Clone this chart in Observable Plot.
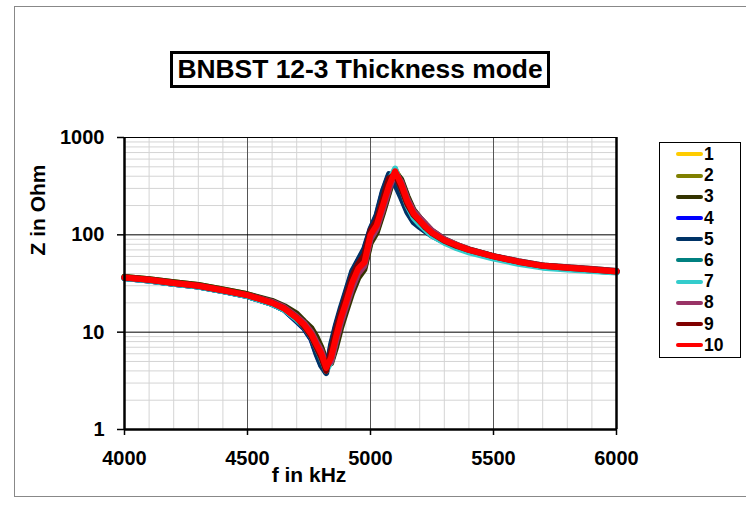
<!DOCTYPE html>
<html><head><meta charset="utf-8">
<script src="https://cdn.jsdelivr.net/npm/d3@7"></script>
<script src="https://cdn.jsdelivr.net/npm/@observablehq/plot@0.6"></script>
<style>
body{margin:0;background:#fff;font-family:Arial,"Liberation Sans",sans-serif;}
#wrap{position:relative;width:746px;height:505px;overflow:hidden;}
#frame{position:absolute;left:14px;top:6px;width:760px;height:489px;border:1px solid #888;}
#title{position:absolute;left:170px;top:51px;width:374px;height:31px;border:3px solid #000;font-weight:bold;font-size:26.4px;line-height:31px;text-align:center;background:#fff;white-space:nowrap;}
#legend{position:absolute;left:659px;top:142px;width:80px;height:214px;border:1px solid #000;background:#fff;}
.li{position:absolute;left:16px;height:20px;font-weight:bold;font-size:17.5px;line-height:20px;}
.li span.sw{display:inline-block;width:27px;height:4px;border-radius:2px;vertical-align:middle;margin-right:1px;position:relative;top:-1px;}
#chart{position:absolute;left:0;top:0;}
#chart svg text{font-weight:bold;font-family:Arial,"Liberation Sans",sans-serif;font-size:20px;}
.axlab{position:absolute;font-weight:bold;font-size:21px;white-space:nowrap;line-height:1;}
#xlab{left:309px;top:474px;transform:translate(-50%,-50%);}
#ylab{left:37px;top:210px;transform:translate(-50%,-50%) rotate(-90deg);}
</style></head>
<body><div id="wrap"><div id="frame"></div><div id="chart"></div><div id="title">BNBST 12-3 Thickness mode</div><div id="legend"></div><div class="axlab" id="xlab">f in kHz</div><div class="axlab" id="ylab">Z in Ohm</div></div>
<script>
const freq = [4000,4100,4200,4300,4400,4500,4600,4650,4700,4730,4760,4780,4800,4820,4840,4860,4880,4900,4925,4950,4975,5000,5025,5050,5075,5100,5125,5150,5175,5200,5225,5250,5300,5350,5400,5500,5600,5700,5800,5900,6000];
const seriesNames = ["1","2","3","4","5","6","7","8","9","10"];
const seriesColors = ["#FFCC00","#808000","#333300","#0000FF","#003366","#008080","#33CCCC","#993366","#800000","#FF0000"];
const z1 = [36.5,34.5,32,30,27,24,20.5,18,14.5,12.5,10,8,6.3,4.5,5.2,8.5,13,19,30,42,50,95,120,190,310,470,340,225,168,142,122,106,88,78,70,60,53,48,46,44,42];
const z2 = [37,35,32.5,30.5,27.5,24.5,20.5,18,15,12.5,10.5,8.5,6.8,4.8,5,7.5,12,17,27,38,46,86,110,172,280,460,360,240,175,148,126,108,89,78,70.5,60,53,48,46,44,42];
const z3 = [37,35,32.5,30.5,27.5,24.5,21,18.5,15.5,13,11,9,7,5,4.8,7,11,16,25,36,44,82,105,165,270,440,370,250,180,150,128,110,90,79,71,60.5,53.5,48.5,46.5,44.5,42.5];
const z4 = [36,34,31.5,29.5,26.5,23.5,19.5,17,13,11,8.5,6.2,4.6,4,7,11.5,17,25,40,54,70,112,155,270,410,350,250,175,138,122,110,99,85,76,69,59.5,52.5,47.5,45.5,43.5,42];
const z5 = [36,34,31.5,29.5,26.5,23.5,19.5,17,13,11,8.5,6,4.5,3.8,7.5,12,18,26,42,55,72,115,160,280,420,330,240,170,135,120,108,98,84,75,68,59,52,47,45,43,41.5];
const z6 = [36,34,31.5,29.5,26.5,23.5,19.5,17,13.5,11.5,9,7,5.3,4.1,5.5,9,14.5,21,33,47,56,104,132,220,360,430,300,205,155,130,114,100,85,75,68,58.5,51.5,47,45,43,41.5];
const z7 = [36,34,31.5,29.5,26.5,23.5,19.5,17,13.5,11.5,9,7,5.5,4,5,8.5,13.5,20,32,46,55,102,130,215,360,480,310,200,150,128,112,98,83,73,66,57,50.5,46,44,42.5,41];
const z8 = [36.5,34.5,32,30,27,24,20.5,18,14.5,12.5,10,8,6.5,4.5,5,8,12.5,18,28,40,48,90,115,180,290,440,350,235,175,150,128,110,90,79,71,60.5,53.5,48.5,46.5,44.5,42.5];
const z9 = [36.5,34.5,32,30,27,24,20,17.5,14,11.5,9,7,5.5,4,6.5,10.5,16,23,37,50,62,110,140,230,380,420,300,205,160,138,118,104,87,77,70,60,53,48,46,44,42];
const z10 = [36.5,34.5,32,30,27,24,20,17.5,14,12,9.5,7.5,6,4.3,5.5,9,14,20,32,45,52,100,125,200,320,450,330,220,165,140,120,105,88,78,70,60,53,48,46,44,42];
const xTicks = [4000,4500,5000,5500,6000];
const yTicks = [1,10,100,1000];

const allZ = [z1,z2,z3,z4,z5,z6,z7,z8,z9,z10];
const data = [];
allZ.forEach((zs,i)=>zs.forEach((z,j)=>data.push({s:seriesNames[i],f:freq[j],z})));

const minorX = d3.range(4000,6001,100).filter(v=>!xTicks.includes(v));
const minorY = [];
for (const d of [1,10,100]) for (let k=2;k<=9;k++) minorY.push(d*k);

const plot = Plot.plot({
  width:746, height:505,
  marginLeft:124, marginRight:130, marginTop:137, marginBottom:76,
  style:{fontFamily:'Arial,"Liberation Sans",sans-serif', background:"transparent"},
  x:{domain:[4000,6000]},
  y:{type:"log", domain:[1,1000]},
  color:{domain:seriesNames, range:seriesColors},
  marks:[
    Plot.ruleX(minorX,{stroke:"#d4d4d4",strokeWidth:1}),
    Plot.ruleY(minorY,{stroke:"#d4d4d4",strokeWidth:1}),
    Plot.ruleX([4500,5000,5500],{stroke:"#555",strokeWidth:1}),
    Plot.ruleY([10,100,1000],{stroke:"#000",strokeWidth:1}),
    Plot.line(data,{x:"f",y:"z",z:"s",stroke:"s",strokeWidth:6,strokeLinejoin:"round",strokeLinecap:"round"}),
    Plot.ruleX([4000,6000],{stroke:"#000",strokeWidth:2.5}),
    Plot.ruleY([1],{stroke:"#000",strokeWidth:2.5}),
    Plot.axisX({ticks:xTicks, tickFormat:d=>String(d), tickSize:6, tickPadding:15, fontSize:20, fontWeight:"bold", stroke:"#000", strokeWidth:1.5, label:null}),
    Plot.axisY({ticks:yTicks, tickFormat:d=>String(d), tickSize:7, tickPadding:13, fontSize:20, fontWeight:"bold", stroke:"#000", strokeWidth:1.5, label:null})
  ]
});
document.getElementById("chart").appendChild(plot);

const leg = document.getElementById("legend");
seriesNames.forEach((n,i)=>{
  const d = document.createElement("div");
  d.className="li";
  d.style.top = (1 + i*21.2) + "px";
  d.innerHTML = `<span class="sw" style="background:${seriesColors[i]}"></span>${n}`;
  leg.appendChild(d);
});
</script></body></html>
